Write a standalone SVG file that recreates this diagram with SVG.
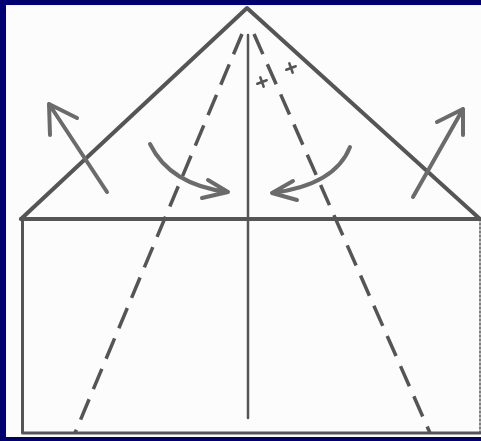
<svg xmlns="http://www.w3.org/2000/svg" width="481" height="441" viewBox="0 0 481 441">
<style>
.ln{stroke:#555;fill:none;stroke-linecap:round;stroke-linejoin:round}
.ar{stroke:#6b6b6b;fill:none;stroke-width:4;stroke-linecap:round;stroke-linejoin:round}
.ds{stroke:#555;fill:none;stroke-width:3.5;stroke-dasharray:22 11}
</style>
<rect x="0" y="0" width="481" height="441" fill="#000070"/>
<rect x="6" y="5" width="475" height="432" fill="#fcfcfc"/>
<g id="paper">
<polyline class="ln" stroke-width="4" points="21,219 247,8 480,219"/>
<line class="ln" stroke-width="4" x1="21" y1="219" x2="480" y2="219"/>
<polyline class="ln" stroke-width="3" points="22.5,219 22.5,433 480,433"/>
<line class="ln" stroke-width="1.5" x1="480" y1="219" x2="480" y2="433" stroke-dasharray="2 2"/>
<line class="ln" stroke-width="2.5" x1="248" y1="35" x2="248" y2="418"/>
</g>
<g id="folds">
<line class="ds" x1="242" y1="34" x2="75" y2="433"/>
<line class="ds" x1="254" y1="34" x2="430" y2="433"/>
</g>
<g id="marks" class="ln" stroke-width="2.5">
<path d="M257,82 h10 M262,77 v10" transform="rotate(-20 262 82)"/>
<path d="M286,68 h10 M291,63 v10" transform="rotate(-20 291 68)"/>
</g>
<g id="arrows">
<path class="ar" d="M107,192 L49,104 M50,135 L49,104 L77,118"/>
<path class="ar" d="M413,197 L463,109 M437,122 L463,109 L463,135"/>
<path class="ar" d="M150,144 Q170,185 228,192 M208,180 L228,192 L202,198"/>
<path class="ar" d="M350,147 Q335,185 272,193 M293,181 L272,193 L297,200"/>
</g>
</svg>
